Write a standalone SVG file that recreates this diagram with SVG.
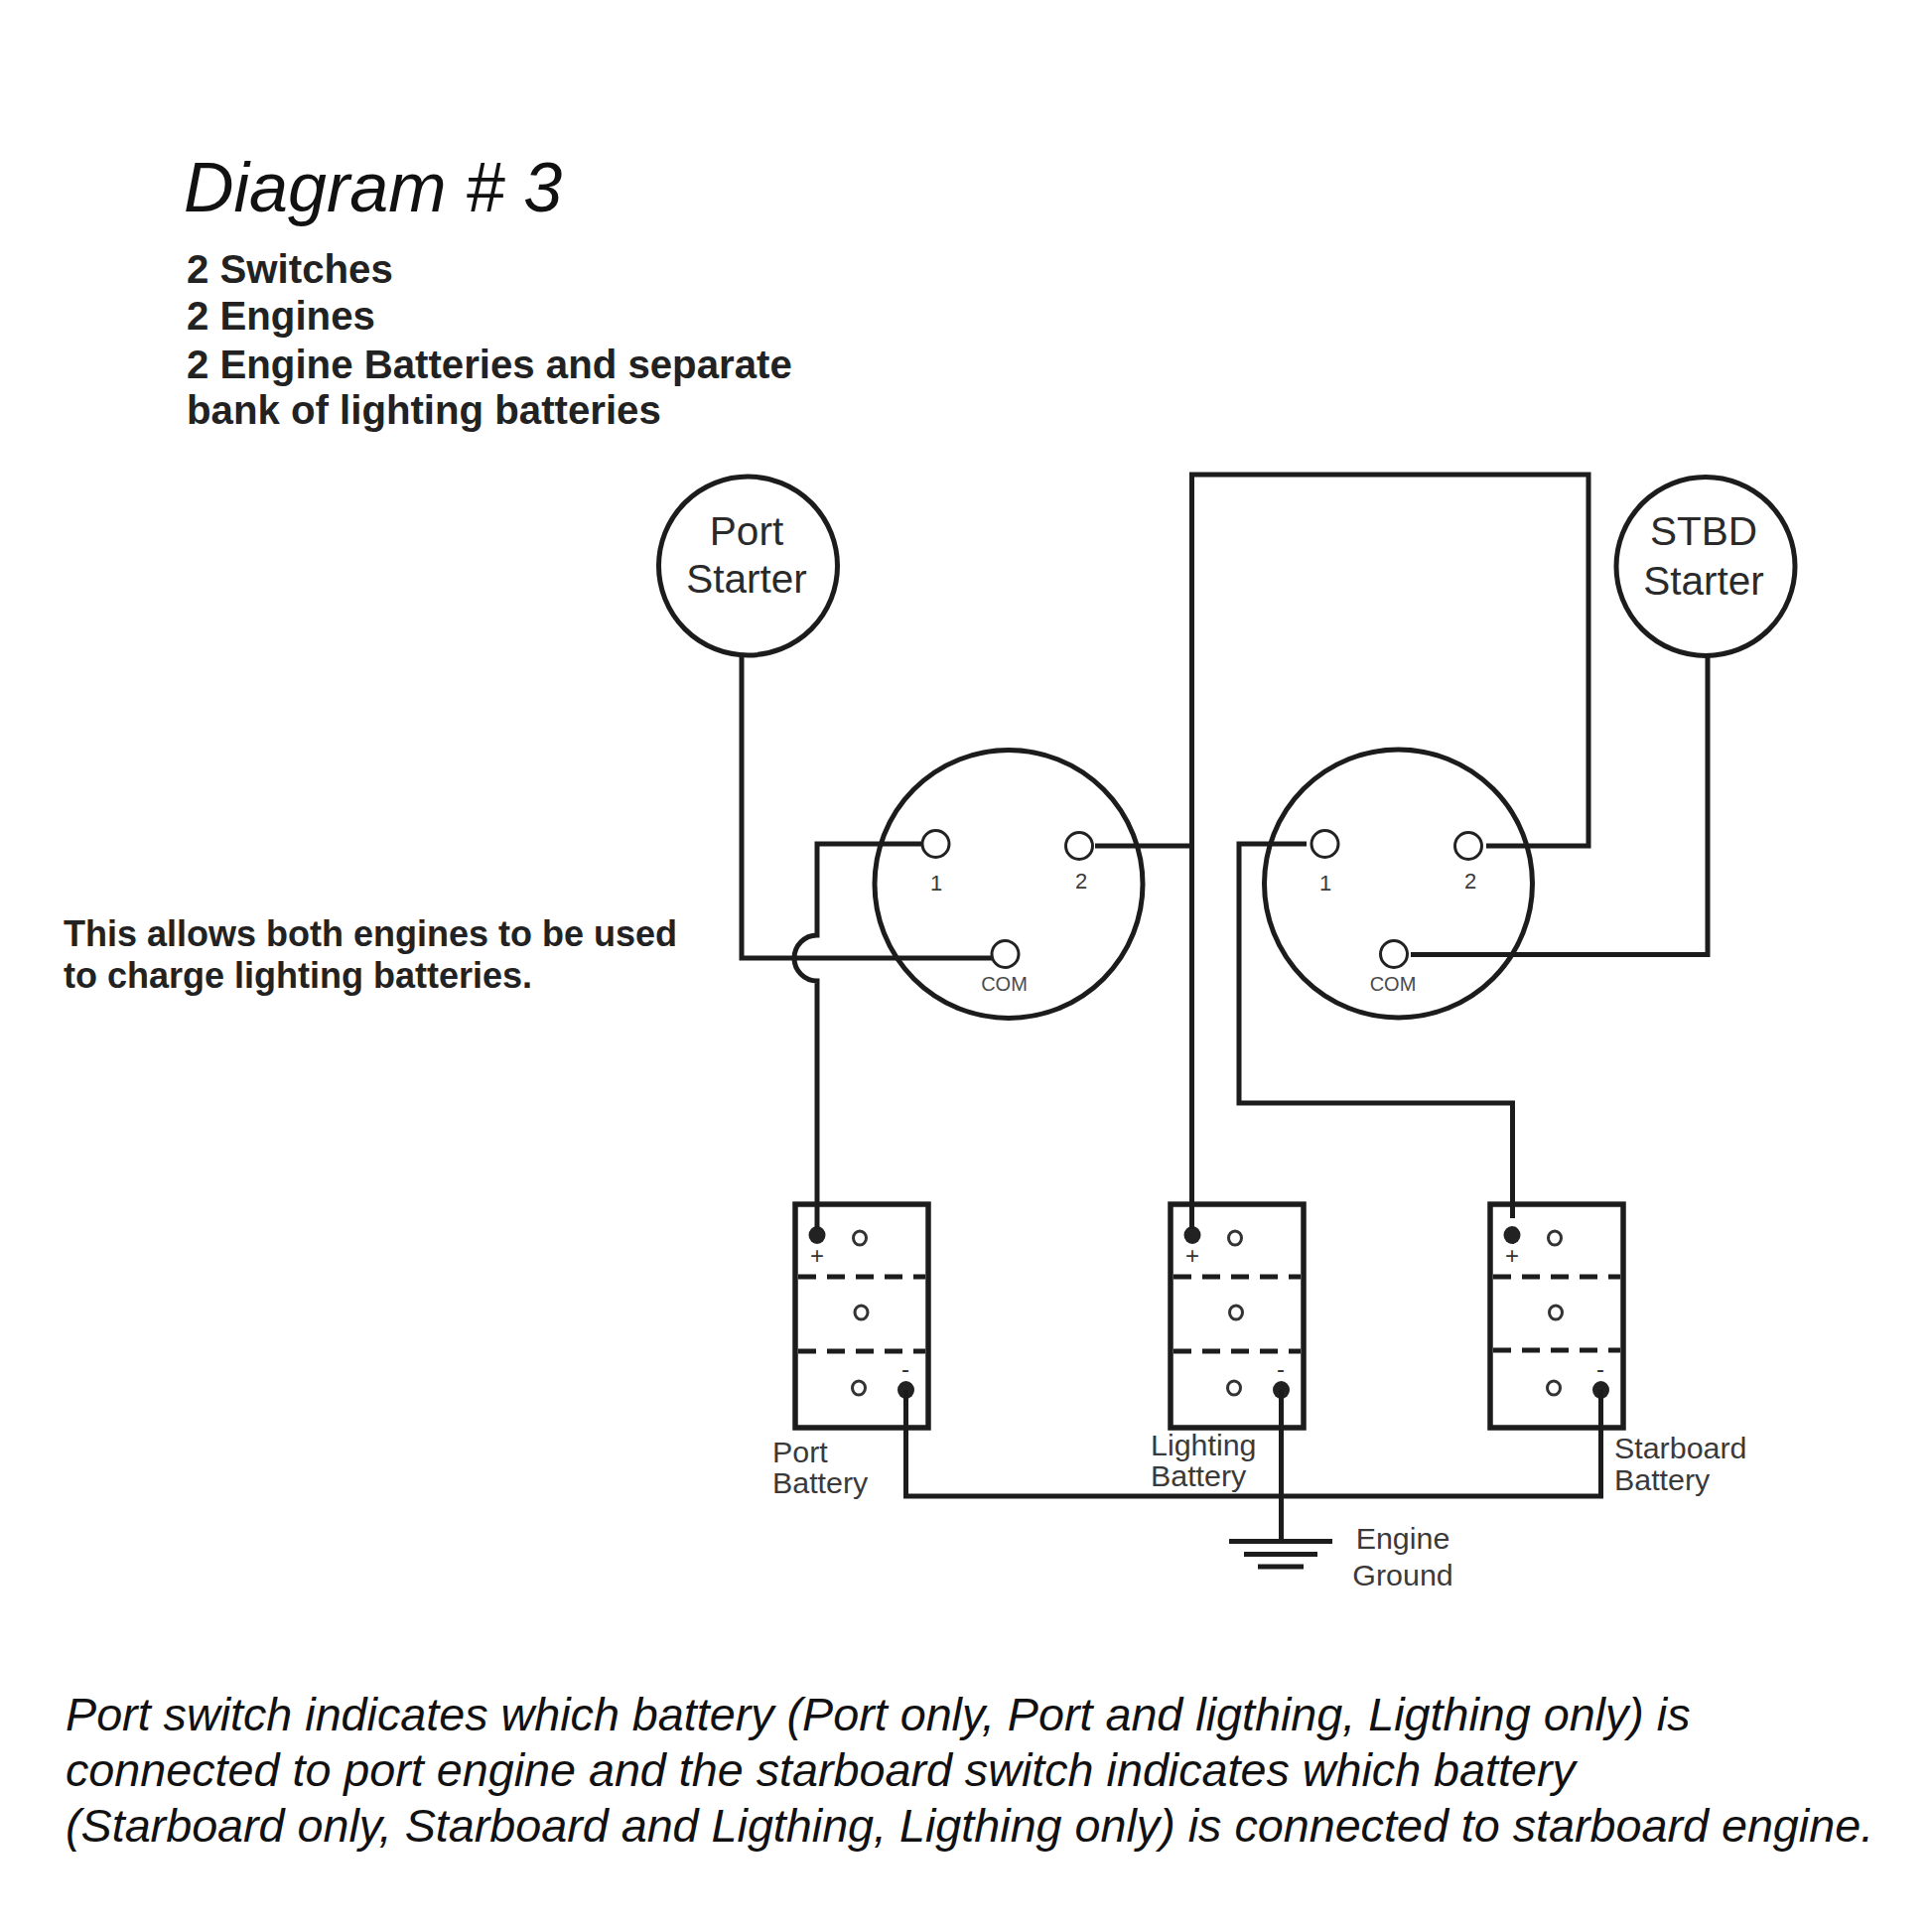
<svg xmlns="http://www.w3.org/2000/svg" width="1946" height="1946" viewBox="0 0 1946 1946">
<style>
text{font-family:"Liberation Sans",Arial,sans-serif;fill:#2a2a2a}
.w{fill:none;stroke:#1c1c1c;stroke-width:5;stroke-linejoin:miter}
.c{fill:none;stroke:#1c1c1c;stroke-width:5}
.p{fill:#fff;stroke:#222;stroke-width:3}
.tp{fill:#fff;stroke:#333;stroke-width:3}
.tb{fill:#222}
.d{fill:none;stroke:#1c1c1c;stroke-width:5;stroke-dasharray:18 11}
.b{fill:#fff;stroke:#1c1c1c;stroke-width:5.5}
.s{font-size:40.5px;text-anchor:middle}
.n{font-size:22px;text-anchor:middle;fill:#3a3a3a}
.o{font-size:20px;text-anchor:middle;fill:#4a4a4a}
.l{font-size:30.4px;fill:#3a3a3a}
.h{font-size:40.2px;font-weight:bold;fill:#222}
.a{font-size:36px;font-weight:bold;fill:#222}
.i{font-size:46.7px;font-style:italic;fill:#111}
.m{font-size:24px;text-anchor:middle;fill:#333}
</style>
<rect width="1946" height="1946" fill="#fff"/>
<g id="notes">
<text x="185" y="213" font-size="70" font-style="italic" style="fill:#111">Diagram # 3</text>
<text class="h" x="188" y="285">2 Switches</text>
<text class="h" x="188" y="332">2 Engines</text>
<text class="h" x="188" y="381">2 Engine Batteries and separate</text>
<text class="h" x="188" y="427">bank of lighting batteries</text>
<text class="a" x="64" y="953">This allows both engines to be used</text>
<text class="a" x="64" y="995">to charge lighting batteries.</text>
<text class="i" x="66" y="1743">Port switch indicates which battery (Port only, Port and ligthing, Ligthing only) is</text>
<text class="i" x="66" y="1799">connected to port engine and the starboard switch indicates which battery</text>
<text class="i" x="66" y="1855">(Starboard only, Starboard and Ligthing, Ligthing only) is connected to starboard engine.</text>
</g>
<g id="port-battery">
<rect class="b" x="801" y="1213" width="134" height="225"/>
<path class="d" d="M804 1286H932M804 1361H932"/>
<ellipse class="tb" cx="823" cy="1244" rx="8.5" ry="9"/><ellipse class="tp" cx="866" cy="1247" rx="6.5" ry="7"/>
<ellipse class="tp" cx="867.5" cy="1322" rx="6.5" ry="7"/><ellipse class="tp" cx="865" cy="1398" rx="6.5" ry="7"/>
<ellipse class="tb" cx="912.5" cy="1400" rx="8.5" ry="9"/>
<text class="m" x="823" y="1273">+</text><text class="m" x="912" y="1387">-</text>
<text class="l" x="778" y="1473">Port</text><text class="l" x="778" y="1504">Battery</text>
</g>
<g id="lighting-battery">
<rect class="b" x="1179" y="1213" width="134" height="225"/>
<path class="d" d="M1182 1286H1310M1182 1361H1310"/>
<ellipse class="tb" cx="1201" cy="1244" rx="8.5" ry="9"/><ellipse class="tp" cx="1244" cy="1247" rx="6.5" ry="7"/>
<ellipse class="tp" cx="1245" cy="1322" rx="6.5" ry="7"/><ellipse class="tp" cx="1243" cy="1398" rx="6.5" ry="7"/>
<ellipse class="tb" cx="1290.5" cy="1400" rx="8.5" ry="9"/>
<text class="m" x="1201" y="1273">+</text><text class="m" x="1290" y="1387">-</text>
<text class="l" x="1159" y="1466">Lighting</text><text class="l" x="1159" y="1497">Battery</text>
</g>
<g id="starboard-battery">
<rect class="b" x="1501" y="1213" width="134" height="225"/>
<path class="d" d="M1504 1286H1632M1504 1360H1632"/>
<ellipse class="tb" cx="1523" cy="1244" rx="8.5" ry="9"/><ellipse class="tp" cx="1566" cy="1247" rx="6.5" ry="7"/>
<ellipse class="tp" cx="1567" cy="1322" rx="6.5" ry="7"/><ellipse class="tp" cx="1565" cy="1398" rx="6.5" ry="7"/>
<ellipse class="tb" cx="1612.5" cy="1400" rx="8.5" ry="9"/>
<text class="m" x="1523" y="1273">+</text><text class="m" x="1612" y="1387">-</text>
<text class="l" x="1626" y="1469">Starboard</text><text class="l" x="1626" y="1501">Battery</text>
</g>
<g id="connectors">
<path class="w" d="M747 660V965H999"/>
<path class="w" d="M928 850H823V942A23 23 0 0 0 823 988V1238"/>
<path class="w" d="M1103 852H1200"/>
<path class="w" d="M1200.500 1238V478H1600V852H1497"/>
<path class="w" d="M1316 850H1248V1111H1523.500V1227"/>
<path class="w" d="M1421 961.500H1720V660"/>
<path class="w" d="M912.500 1400V1507H1612.500V1400"/>
<path class="w" d="M1290.500 1400V1553"/>
</g>
<g id="port-starter">
<circle class="c" cx="753.500" cy="570" r="90"/>
<text class="s" x="752" y="549">Port</text><text class="s" x="752" y="597">Starter</text>
</g>
<g id="stbd-starter">
<circle class="c" cx="1718" cy="570.500" r="90"/>
<text class="s" x="1716" y="549">STBD</text><text class="s" x="1716" y="599">Starter</text>
</g>
<g id="port-switch">
<circle class="c" cx="1016" cy="890.500" r="135"/>
<circle class="p" cx="942.500" cy="850" r="13.500"/><circle class="p" cx="1087" cy="852" r="13.500"/><circle class="p" cx="1012.500" cy="961" r="13.500"/>
<text class="n" x="943" y="897">1</text><text class="n" x="1089" y="895">2</text><text class="o" x="1011.500" y="998">COM</text>
</g>
<g id="stbd-switch">
<circle class="c" cx="1408.500" cy="890" r="135"/>
<circle class="p" cx="1334.500" cy="850" r="13.500"/><circle class="p" cx="1479" cy="852" r="13.500"/><circle class="p" cx="1404" cy="961" r="13.500"/>
<text class="n" x="1335" y="897">1</text><text class="n" x="1481" y="895">2</text><text class="o" x="1403" y="998">COM</text>
</g>
<g id="engine-ground">
<path class="w" d="M1238 1552.500H1342M1253 1565.500H1327M1267 1578H1313"/>
<text class="l" x="1413" y="1560" text-anchor="middle">Engine</text><text class="l" x="1413" y="1597" text-anchor="middle">Ground</text>
</g>
</svg>
